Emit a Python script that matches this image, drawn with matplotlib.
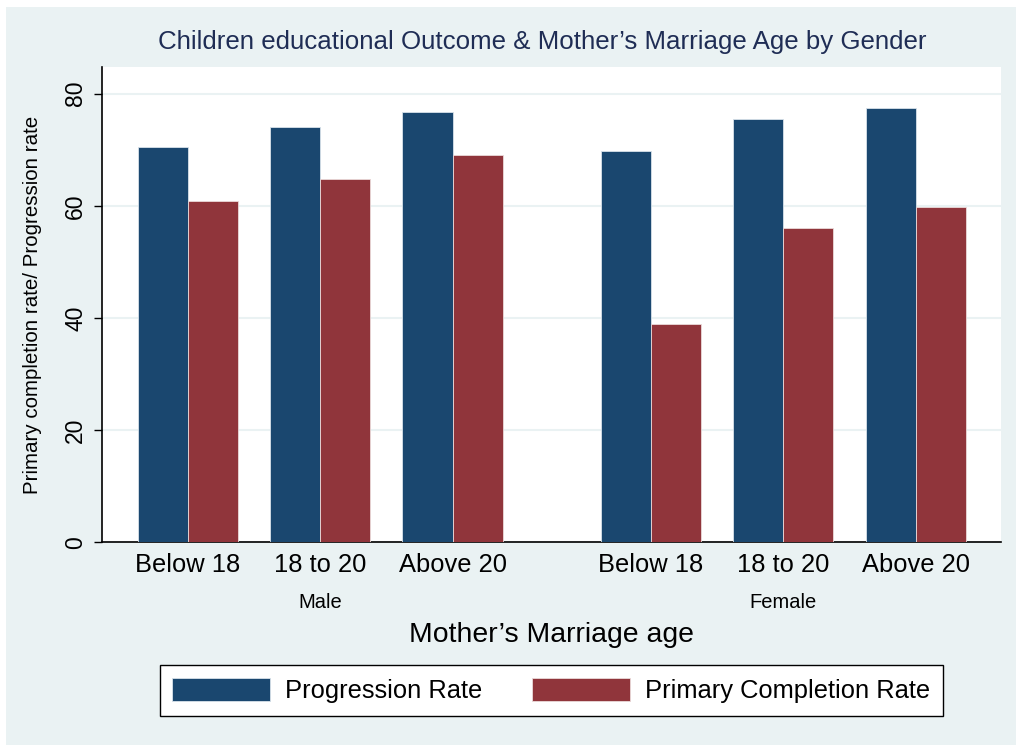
import matplotlib
matplotlib.use("Agg")
import matplotlib.pyplot as plt
from matplotlib.patches import Rectangle, Patch
import matplotlib.transforms as mtransforms
import numpy as np

plt.rcParams['font.family'] = ['Liberation Sans', 'DejaVu Sans']

# ---- data ----
age_groups = ["Below 18", "18 to 20", "Above 20"]
genders = ["Male", "Female"]
progression_male = [70.5, 74.1, 76.7]
completion_male = [60.9, 64.7, 69.1]
progression_female = [69.8, 75.4, 77.4]
completion_female = [39.0, 56.0, 59.7]
yticks = [0, 20, 40, 60, 80]

title = "Children educational Outcome & Mother\u2019s Marriage Age by Gender"
xlabel = "Mother\u2019s Marriage age"
ylabel = "Primary completion rate/ Progression rate"
series_names = ["Progression Rate", "Primary Completion Rate"]

# ---- style ----
BG = "#EAF2F3"
BLUE = "#1A476F"
RED = "#90353B"
TITLE_C = "#1F2D55"

W, H = 1016, 745
fig = plt.figure(figsize=(W / 100, H / 100), dpi=100)
fig.patch.set_facecolor("white")
fig.add_artist(Rectangle((6 / W, 0), 1 - 6 / W, 1 - 7 / H, transform=fig.transFigure,
                         facecolor=BG, edgecolor="none", zorder=-10))

def fx(px):
    return px / W

def fy(py):
    return 1 - py / H

left, right, top, bottom = 102.3, 1001.3, 66.7, 542.3
ax = fig.add_axes([fx(left), fy(bottom), fx(right - left), (bottom - top) / H])
ax.set_facecolor("white")

x_m = np.array([0.0, 1.0, 2.0])
x_f = np.array([3.5, 4.5, 5.5])
bw = 0.378
xs = np.concatenate([x_m, x_f])
prog = progression_male + progression_female
comp = completion_male + completion_female

ax.bar(xs - bw / 2, prog, width=bw, color=BLUE, edgecolor="#d8e2ea", linewidth=0.6, zorder=3)
ax.bar(xs + bw / 2, comp, width=bw, color=RED, edgecolor="#eadada", linewidth=0.6, zorder=3)

ax.set_xlim(-0.646, 6.146)
ax.set_ylim(0, 84.8)
ax.set_yticks(yticks)
ax.set_yticklabels([str(v) for v in yticks], rotation=90, va="center", fontsize=16.5)
ax.set_xticks(xs)
ax.set_xticklabels(age_groups * 2, fontsize=18.4)
ax.tick_params(axis="x", length=0, pad=8)
ax.tick_params(axis="y", length=6, width=1, direction="out", pad=5)
ax.yaxis.grid(True, color=BG, linewidth=1.5, zorder=0)
ax.set_axisbelow(True)
for s in ["top", "right"]:
    ax.spines[s].set_visible(False)
ax.spines["left"].set_linewidth(1.2)
ax.spines["bottom"].set_linewidth(1.2)
ax.spines["left"].set_color("black")
ax.spines["bottom"].set_color("black")

# group labels
blend = mtransforms.blended_transform_factory(ax.transData, fig.transFigure)
for g, xc in zip(genders, [x_m.mean(), x_f.mean()]):
    ax.text(xc, fy(602), g, transform=blend, ha="center", va="center", fontsize=14.5)

fig.text(fx(551.5), fy(635), xlabel, ha="center", va="center", fontsize=20.4)
fig.text(fx(33), fy(305), ylabel, ha="center", va="center", rotation=90, fontsize=14.8)
fig.text(fx(542), fy(41.5), title, ha="center", va="center", fontsize=18.6, color=TITLE_C)

handles = [Patch(facecolor=BLUE, edgecolor="#d8e2ea", linewidth=0.6),
           Patch(facecolor=RED, edgecolor="#eadada", linewidth=0.6)]
leg = fig.legend(handles, series_names, loc="center", bbox_to_anchor=(fx(551.5), fy(690.5)),
                 ncol=2, fontsize=18.4, frameon=True, fancybox=False, framealpha=1,
                 edgecolor="black", handlelength=3.8, handleheight=1.05,
                 handletextpad=0.62, columnspacing=1.95, borderpad=0.5, borderaxespad=0)
leg.get_frame().set_linewidth(1.0)

fig.savefig("out.png", dpi=100, facecolor=fig.get_facecolor())
